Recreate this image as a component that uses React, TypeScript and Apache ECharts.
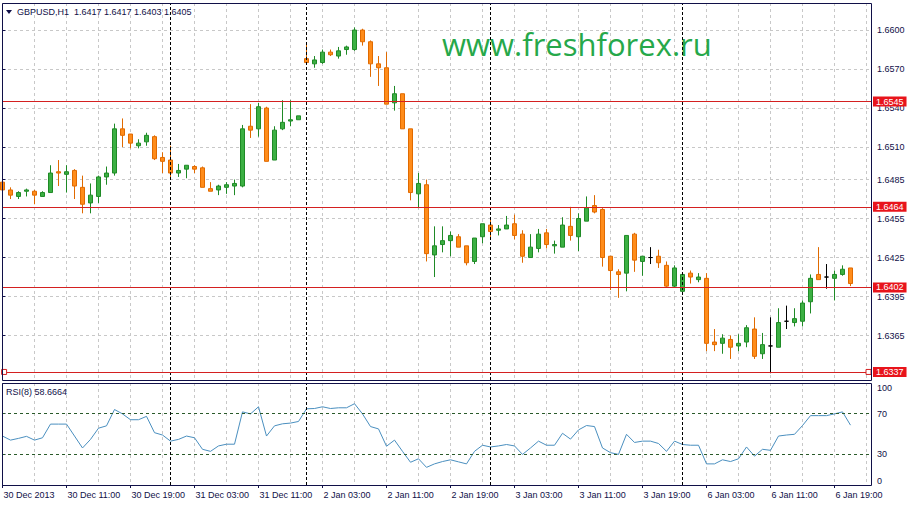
import React, { useEffect, useRef } from "react";
import * as echarts from "echarts";

const symbolName = "GBPUSD";
const timeframe = "H1";

const opens = [
  1.6483, 1.6477, 1.6472, 1.6476, 1.6476, 1.6472, 1.6475, 1.6491, 1.6489, 1.6492,
  1.6479, 1.6467, 1.6472, 1.6487, 1.649, 1.6524, 1.652, 1.6511, 1.6514, 1.6518,
  1.6502, 1.65, 1.649, 1.6493, 1.6495, 1.6494, 1.6478, 1.6477, 1.6479, 1.648,
  1.648, 1.6526, 1.6524, 1.654, 1.65, 1.6524, 1.653, 1.6531, 1.6578, 1.6574,
  1.6575, 1.6583, 1.658, 1.6585, 1.6585, 1.66, 1.6591, 1.6574, 1.6571, 1.6544,
  1.6551, 1.6524, 1.6474, 1.6481, 1.6427, 1.6435, 1.6438, 1.6441, 1.6434, 1.6422,
  1.6441, 1.645, 1.6446, 1.6447, 1.6451, 1.6443, 1.6425, 1.6432, 1.6444, 1.6434,
  1.6433, 1.6449, 1.6441, 1.6453, 1.6465, 1.6462, 1.6426, 1.6414, 1.6413, 1.6443,
  1.6422, 1.6425, 1.6426, 1.6419, 1.6403, 1.6399, 1.6413, 1.6408, 1.6409, 1.636,
  1.6359, 1.6362, 1.6357, 1.636, 1.637, 1.6351, 1.6357, 1.6356, 1.6376, 1.6375,
  1.6376, 1.6391, 1.6412, 1.641, 1.6409, 1.6412, 1.6417,
];
const closes = [
  1.6477, 1.6473, 1.6475, 1.6477, 1.6473, 1.6475, 1.649, 1.649, 1.6491, 1.648,
  1.6466, 1.6473, 1.6487, 1.649, 1.6524, 1.6519, 1.6513, 1.6513, 1.6519, 1.6501,
  1.6499, 1.649, 1.6492, 1.6496, 1.6493, 1.6479, 1.6476, 1.648, 1.6481, 1.6482,
  1.6524, 1.6523, 1.6541, 1.6499, 1.6523, 1.6529, 1.6531, 1.6534, 1.6575, 1.6577,
  1.6583, 1.6581, 1.6584, 1.6587, 1.66, 1.6591, 1.6574, 1.6571, 1.6543, 1.6551,
  1.6524, 1.6475, 1.6482, 1.6428, 1.6434, 1.6438, 1.6442, 1.6433, 1.6421, 1.644,
  1.6451, 1.6445, 1.6447, 1.645, 1.6442, 1.6426, 1.6433, 1.6443, 1.6435, 1.6435,
  1.645, 1.6442, 1.6455, 1.6463, 1.646, 1.6425, 1.6415, 1.6412, 1.6442, 1.6423,
  1.6426, 1.6425, 1.6421, 1.6403, 1.6417, 1.6412, 1.641, 1.641, 1.6359, 1.6358,
  1.6363, 1.6356, 1.6359, 1.6371, 1.6349, 1.6358, 1.6357, 1.6375, 1.6376, 1.6378,
  1.639, 1.6409, 1.6408, 1.641, 1.6412, 1.6416, 1.6405,
];
const highs = [
  1.6487, 1.6479, 1.6476, 1.6478, 1.6477, 1.6476, 1.6496, 1.65, 1.6496, 1.6493,
  1.6488, 1.6482, 1.6488, 1.6495, 1.6528, 1.6532, 1.652, 1.6516, 1.6521, 1.6519,
  1.6506, 1.6511, 1.6497, 1.6496, 1.6496, 1.6495, 1.6483, 1.6481, 1.6483, 1.6485,
  1.6527, 1.6543, 1.6544, 1.6541, 1.6526, 1.6546, 1.6546, 1.6534, 1.659, 1.658,
  1.6585, 1.6585, 1.6587, 1.6588, 1.6602, 1.6601, 1.6592, 1.658, 1.6583, 1.6557,
  1.6551, 1.6524, 1.649, 1.6485, 1.6449, 1.6449, 1.6445, 1.6443, 1.6434, 1.644,
  1.6451, 1.6454, 1.645, 1.6457, 1.6458, 1.6446, 1.6443, 1.6447, 1.6447, 1.6438,
  1.6456, 1.6464, 1.6459, 1.6472, 1.6473, 1.6463, 1.6426, 1.6416, 1.6442, 1.6444,
  1.6426, 1.6433, 1.6431, 1.6422, 1.6419, 1.6413, 1.6415, 1.6413, 1.6413, 1.637,
  1.6366, 1.6365, 1.6366, 1.6373, 1.6379, 1.6367, 1.6379, 1.6386, 1.6388, 1.6386,
  1.6392, 1.6412, 1.6433, 1.642, 1.6415, 1.6419, 1.6417,
];
const lows = [
  1.647, 1.647, 1.647, 1.6472, 1.6466, 1.6472, 1.6475, 1.648, 1.6475, 1.647,
  1.6459, 1.6459, 1.6467, 1.6481, 1.6488, 1.651, 1.6509, 1.6509, 1.6511, 1.65,
  1.649, 1.6486, 1.6487, 1.6486, 1.649, 1.6479, 1.6476, 1.6473, 1.6474, 1.6473,
  1.6479, 1.6517, 1.6518, 1.6499, 1.65, 1.6523, 1.6526, 1.6531, 1.6575, 1.6571,
  1.6574, 1.658, 1.6578, 1.6581, 1.6584, 1.6588, 1.6564, 1.6557, 1.6543, 1.6538,
  1.6524, 1.6469, 1.6463, 1.6422, 1.641, 1.6429, 1.6426, 1.6433, 1.6419, 1.642,
  1.6436, 1.6439, 1.6442, 1.6447, 1.6439, 1.6421, 1.6425, 1.6429, 1.6432, 1.6428,
  1.6433, 1.6438, 1.643, 1.6453, 1.6459, 1.6418, 1.64, 1.6394, 1.6399, 1.6414,
  1.6411, 1.642, 1.6417, 1.6402, 1.6402, 1.6398, 1.6405, 1.6406, 1.6353, 1.6353,
  1.6351, 1.6347, 1.6353, 1.6356, 1.6347, 1.6347, 1.6336, 1.6356, 1.637, 1.6372,
  1.6372, 1.6382, 1.6408, 1.6401, 1.6392, 1.6411, 1.6403,
];
const rsiValues = [
  48, 44, 45.7, 47.7, 44, 46.3, 59.7, 59.7, 59.7, 48,
  36.3, 44.7, 55.7, 58, 74, 69.7, 64, 64, 67.3, 51.3,
  49, 43, 44.7, 48, 46.3, 35, 33, 38.3, 40, 40,
  71.7, 69.7, 76.7, 48, 58, 60, 60.7, 62.3, 74.7, 75,
  76.7, 75, 75.7, 75.7, 79.7, 69.7, 57.3, 55, 38, 44,
  33, 22.3, 25.7, 17.3, 20.7, 23, 24.7, 22.7, 20.7, 33,
  39, 37.3, 38.3, 39.7, 38.3, 30, 36.3, 43, 39, 39,
  50.7, 45, 54, 58.3, 57.3, 36.3, 31.7, 30, 49.7, 41.7,
  43, 43, 40.7, 33, 43, 39.7, 39, 39, 20.7, 20.7,
  24.7, 23, 25.7, 37.3, 28.3, 35, 34, 48, 49, 49.7,
  58.3, 68, 68, 68, 69.7, 71.7, 58.6664,
];
const rsiPeriod = 8;

const timeLabels = [
  "30 Dec 2013", "30 Dec 11:00", "30 Dec 19:00", "31 Dec 03:00", "31 Dec 11:00",
  "2 Jan 03:00", "2 Jan 11:00", "2 Jan 19:00", "3 Jan 03:00", "3 Jan 11:00",
  "3 Jan 19:00", "6 Jan 03:00", "6 Jan 11:00", "6 Jan 19:00",
];
const priceTicks = [1.6365, 1.6395, 1.6425, 1.6455, 1.6485, 1.651, 1.654, 1.657, 1.66];
const rsiTicks = [0, 30, 70, 100];
const rsiLevels = [70, 30];
const daySeparators = [21, 38, 61, 85];
const levelLines = [1.6545, 1.6464, 1.6402, 1.6337];
const selectedLevel = 1.6337;

const NAVY = "#101048";
const FONT = "Liberation Sans";
const GRID_GRAY = "#c8c8c8";
const RED_LINE = "#d42020";
const RED_TAG = "#e8141b";

const BARS_PER_LABEL = 8;
const BARS_PER_GRID = 4;
const X_MIN = -0.0625;
const X_MAX = 108.5625;

export default function App() {
  const ref = useRef<HTMLDivElement>(null);

  useEffect(() => {
    if (!ref.current) return;
    const chart = echarts.init(ref.current, undefined, { renderer: "svg" });

    const n = opens.length;
    const labelPos = timeLabels.map((_, k) => k * BARS_PER_LABEL);
    const gridPos: number[] = [];
    for (let v = 0; v <= X_MAX; v += BARS_PER_GRID) gridPos.push(v);

    const candleData = opens.map((o, i) => {
      const item: any = { value: [i, o, closes[i], lows[i], highs[i]] };
      if (o === closes[i]) {
        item.itemStyle = { color: "#000", color0: "#000", borderColor: "#000", borderColor0: "#000" };
      }
      return item;
    });
    const lastO = opens[n - 1], lastC = closes[n - 1], lastH = highs[n - 1], lastL = lows[n - 1];
    const titleText = `${symbolName},${timeframe}  ${lastO.toFixed(4)} ${lastH.toFixed(4)} ${lastL.toFixed(4)} ${lastC.toFixed(4)}`;

    const sepLines = () =>
      daySeparators.map((b) => ({ xAxis: b }));

    const tagLabel = (bg: string, v: number) => ({
      show: true,
      position: "end",
      formatter: v.toFixed(4),
      backgroundColor: bg,
      color: "#fff",
      fontSize: 9,
      fontFamily: FONT,
      padding: [1, 3, 0, 3],
      distance: 2,
    });

    const xBase = (gridIndex: number) => ({
      type: "value",
      gridIndex,
      min: X_MIN,
      max: X_MAX,
      axisLine: { show: false },
      axisTick: { show: false, customValues: gridPos },
      splitLine: { show: true, lineStyle: { color: GRID_GRAY, type: [3, 3], width: 1 } },
    });

    const sepMarkLine = {
      silent: true,
      symbol: "none",
      animation: false,
      precision: 4,
      label: { show: false },
      lineStyle: { color: "#000", type: [3, 2], width: 1 },
      data: sepLines(),
    };

    const option: any = {
      animation: false,
      backgroundColor: "#ffffff",
      grid: [
        { left: 2, top: 3, width: 869, height: 377 },
        { left: 2, top: 383, width: 869, height: 102 },
      ],
      xAxis: [
        { ...xBase(0), axisLabel: { show: false } },
        {
          ...xBase(1),
          axisLabel: {
            show: true,
            customValues: labelPos,
            formatter: (v: number) => timeLabels[Math.round(v / BARS_PER_LABEL)] ?? "",
            align: "left",
            margin: 5,
            color: NAVY,
            fontSize: 9,
            fontFamily: FONT,
            padding: [0, 0, 0, 1],
          },
        },
        {
          type: "value",
          gridIndex: 1,
          position: "bottom",
          min: X_MIN,
          max: X_MAX,
          axisLine: { show: false },
          axisLabel: { show: false },
          splitLine: { show: false },
          axisTick: { show: true, length: 3, customValues: labelPos, lineStyle: { color: NAVY } },
        },
      ],
      yAxis: [
        {
          type: "value",
          gridIndex: 0,
          position: "right",
          min: 1.63308,
          max: 1.66208,
          axisLine: { show: false },
          axisTick: { show: true, length: 3, customValues: priceTicks, lineStyle: { color: NAVY } },
          axisLabel: {
            customValues: priceTicks,
            formatter: (v: number) => v.toFixed(4),
            color: NAVY,
            fontSize: 9,
            fontFamily: FONT,
            margin: 6,
          },
          splitLine: { show: true, lineStyle: { color: GRID_GRAY, type: [3, 3], width: 1 } },
        },
        {
          type: "value",
          gridIndex: 1,
          position: "right",
          min: 0,
          max: 100,
          axisLine: { show: false },
          axisTick: { show: true, length: 3, customValues: rsiTicks, lineStyle: { color: NAVY } },
          axisLabel: {
            customValues: rsiTicks,
            color: NAVY,
            fontSize: 9,
            fontFamily: FONT,
            margin: 6,
            verticalAlignMinLabel: "bottom",
            verticalAlignMaxLabel: "top",
          },
          splitLine: { show: false },
        },
      ],
      series: [
        {
          type: "candlestick",
          xAxisIndex: 0,
          yAxisIndex: 0,
          barWidth: 4,
          data: candleData,
          itemStyle: {
            color: "#3cb043",
            color0: "#ff8c1a",
            borderColor: "#1f8a26",
            borderColor0: "#e06a00",
            borderWidth: 1,
          },
          markLine: { ...sepMarkLine, data: sepLines() },
        },
        {
          type: "line",
          name: "levels",
          xAxisIndex: 0,
          yAxisIndex: 0,
          data: [],
          silent: true,
          markLine: {
            silent: true,
            symbol: "none",
            animation: false,
            precision: 4,
            lineStyle: { color: RED_LINE, type: "solid", width: 1 },
            data: [
              { yAxis: lastC, lineStyle: { width: 0, opacity: 0 }, label: tagLabel("#000060", lastC) },
              ...levelLines.map((v) => ({ yAxis: v, label: tagLabel(RED_TAG, v) })),
            ],
          },
          markPoint: {
            silent: true,
            symbol: "rect",
            symbolSize: 5,
            label: { show: false },
            itemStyle: { color: "#fff", borderColor: RED_LINE, borderWidth: 1 },
            data: [{ coord: [0.2, selectedLevel] }, { coord: [108.25, selectedLevel] }],
          },
        },
        {
          type: "line",
          xAxisIndex: 1,
          yAxisIndex: 1,
          data: rsiValues.map((v, i) => [i, v]),
          showSymbol: false,
          symbol: "none",
          lineStyle: { color: "#4a8fbf", width: 1 },
          markLine: {
            silent: true,
            symbol: "none",
            animation: false,
            precision: 4,
            label: { show: false },
            lineStyle: { color: "#2a5a2a", type: [3, 3], width: 1 },
            data: rsiLevels.map((v) => ({ yAxis: v })),
          },
        },
        {
          type: "line",
          name: "separators",
          xAxisIndex: 1,
          yAxisIndex: 1,
          data: [],
          silent: true,
          markLine: { ...sepMarkLine, data: sepLines() },
        },
      ],
      graphic: [
        {
          type: "rect",
          shape: { x: 2.5, y: 3.5, width: 869, height: 377 },
          style: { fill: "none", stroke: NAVY, lineWidth: 1 },
          z: 10,
          silent: true,
        },
        {
          type: "rect",
          shape: { x: 2.5, y: 383.5, width: 869, height: 102 },
          style: { fill: "none", stroke: NAVY, lineWidth: 1 },
          z: 10,
          silent: true,
        },
        {
          type: "polygon",
          shape: { points: [[6, 10], [12, 10], [9, 14]] },
          style: { fill: NAVY },
          z: 10,
        },
        {
          type: "text",
          x: 17,
          y: 12,
          style: { text: titleText, fill: NAVY, font: `9px "${FONT}"`, verticalAlign: "middle" },
          z: 10,
        },
        {
          type: "text",
          x: 6,
          y: 392,
          style: {
            text: `RSI(${rsiPeriod}) ${rsiValues[n - 1].toFixed(4)}`,
            fill: NAVY,
            font: `9px "${FONT}"`,
            verticalAlign: "middle",
          },
          z: 10,
        },
        {
          type: "text",
          x: 442,
          y: 44,
          style: {
            text: "www.freshforex.ru",
            fill: "#26a84a",
            font: `31px "Open Sans"`,
            verticalAlign: "middle",
          },
          z: 1,
        },
      ],
    };

    chart.setOption(option);
    return () => chart.dispose();
  }, []);

  return (
    <div
      ref={ref}
      style={{ position: "fixed", left: 0, top: 0, width: 913, height: 505, background: "#fff" }}
    />
  );
}
